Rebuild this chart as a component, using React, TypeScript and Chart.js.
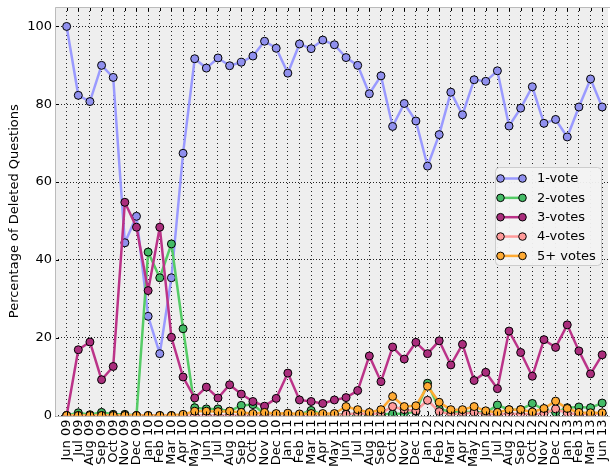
import React, { useEffect, useRef } from "react";
import { Chart, registerables } from "chart.js";
Chart.register(...registerables);

const months = [
  "Jun 09", "Jul 09", "Aug 09", "Sep 09", "Oct 09", "Nov 09", "Dec 09",
  "Jan 10", "Feb 10", "Mar 10", "Apr 10", "May 10", "Jun 10", "Jul 10", "Aug 10", "Sep 10", "Oct 10", "Nov 10", "Dec 10",
  "Jan 11", "Feb 11", "Mar 11", "Apr 11", "May 11", "Jun 11", "Jul 11", "Aug 11", "Sep 11", "Oct 11", "Nov 11", "Dec 11",
  "Jan 12", "Feb 12", "Mar 12", "Apr 12", "May 12", "Jun 12", "Jul 12", "Aug 12", "Sep 12", "Oct 12", "Nov 12", "Dec 12",
  "Jan 13", "Feb 13", "Mar 13", "Jun 13",
];

const oneVote = [100, 82.3, 80.7, 90.0, 86.9, 44.4, 51.2, 25.5, 15.9, 35.4, 67.4, 91.7, 89.3, 91.9, 89.9, 90.8, 92.4, 96.2, 94.4, 88.0, 95.5, 94.3, 96.5, 95.3, 92.0, 90.0, 82.7, 87.3, 74.3, 80.2, 75.7, 64.1, 72.2, 83.1, 77.3, 86.3, 85.9, 88.6, 74.4, 79.0, 84.5, 75.1, 76.1, 71.6, 79.3, 86.5, 79.3];
const twoVotes = [0, 0.7, 0.2, 0.8, 0.3, 0.3, 0, 42.0, 35.4, 44.1, 22.3, 2.0, 1.7, 1.7, 1.1, 2.6, 2.8, 0.4, 0.3, 0.3, 0.2, 1.3, 0.2, 0.2, 0.4, 0.3, 0.3, 0.3, 0.4, 0.5, 1.0, 8.3, 1.7, 0.9, 0.9, 0.9, 0.7, 2.7, 1.5, 1.5, 3.1, 1.5, 0.8, 2.0, 2.2, 2.0, 3.2];
const threeVotes = [0, 16.9, 18.9, 9.2, 12.6, 54.8, 48.4, 32.1, 48.4, 20.1, 9.9, 4.5, 7.3, 4.5, 7.9, 5.5, 3.6, 2.4, 4.4, 10.9, 4.0, 3.6, 3.1, 4.0, 4.6, 6.4, 15.3, 8.7, 17.6, 14.5, 18.8, 15.9, 19.2, 13.0, 18.3, 9.0, 11.1, 6.9, 21.7, 16.2, 10.1, 19.5, 17.5, 23.3, 16.6, 10.7, 15.6];
const fourVotes = [0, 0, 0, 0, 0, 0, 0, 0, 0, 0, 0, 0, 0, 0, 0, 0, 0, 0, 0, 0, 0, 0, 0, 0, 0.3, 0.5, 0.3, 0.6, 2.3, 1.5, 1.2, 3.9, 1.0, 0.3, 0.5, 0.8, 0.3, 0.2, 0.5, 0.3, 0.3, 0.5, 1.7, 0.6, 0.3, 0.3, 0.5];
const fiveVotes = [0, 0, 0, 0, 0, 0, 0, 0, 0, 0, 0.3, 1.1, 1.1, 1.0, 1.1, 0.8, 0.5, 0.8, 0.5, 0.6, 0.4, 0.5, 0.5, 0.5, 2.3, 1.5, 0.8, 1.5, 4.9, 2.3, 2.5, 7.5, 3.4, 1.5, 1.5, 2.3, 1.2, 0.8, 1.5, 1.5, 0.9, 1.8, 3.7, 1.8, 0.8, 0.7, 0.7];

const yTicks = [0, 20, 40, 60, 80, 100];
const seriesLabels = ["1-vote", "2-votes", "3-votes", "4-votes", "5+ votes"];
const seriesValues = [oneVote, twoVotes, threeVotes, fourVotes, fiveVotes];
const lineColors = ["#9a9aff", "#55cc66", "#bb3388", "#ff9a9a", "#ffaa33"];
const pointColors = ["#9090ee", "#44bb66", "#aa2d7c", "#ff9a9a", "#ffaa33"];

const FONT = "'DejaVu Sans', sans-serif";

export default function App() {
  const ref = useRef<HTMLCanvasElement>(null);

  useEffect(() => {
    document.body.style.margin = "0";
    const canvas = ref.current!;

    const bgPlugin = {
      id: "bg",
      beforeDraw(chart: any) {
        const { ctx, chartArea: a } = chart;
        ctx.save();
        ctx.fillStyle = "#eeeeee";
        ctx.fillRect(a.left, a.top, a.right - a.left, a.bottom - a.top);
        ctx.restore();
      },
    };

    const framePlugin = {
      id: "frame",
      afterDatasetsDraw(chart: any) {
        const { ctx, chartArea: a, scales } = chart;
        ctx.save();
        ctx.strokeStyle = "#000";
        ctx.lineWidth = 1;
        ctx.beginPath();
        months.forEach((_, i) => {
          const x = Math.round(scales.x.getPixelForValue(i)) + 0.5;
          ctx.moveTo(x, a.top);
          ctx.lineTo(x, a.top + 4);
          ctx.moveTo(x, a.bottom);
          ctx.lineTo(x, a.bottom - 4);
        });
        yTicks.forEach((v) => {
          const y = Math.round(scales.y.getPixelForValue(v)) + 0.5;
          ctx.moveTo(a.left, y);
          ctx.lineTo(a.left + 4, y);
        });
        ctx.stroke();
        ctx.strokeStyle = "#bbbbbb";
        ctx.beginPath();
        ctx.moveTo(a.right + 2, Math.round(a.top) + 0.5);
        ctx.lineTo(Math.round(a.left) + 0.5, Math.round(a.top) + 0.5);
        ctx.lineTo(Math.round(a.left) + 0.5, Math.round(a.bottom) + 0.5);
        ctx.lineTo(a.right + 2, Math.round(a.bottom) + 0.5);
        ctx.stroke();
        ctx.restore();
      },
    };

    const legendPlugin = {
      id: "customLegend",
      afterDraw(chart: any) {
        const { ctx } = chart;
        ctx.save();
        const x0 = 495.5, y0 = 167.5, w = 106, h = 98, r = 4;
        ctx.beginPath();
        ctx.moveTo(x0 + r, y0);
        ctx.arcTo(x0 + w, y0, x0 + w, y0 + h, r);
        ctx.arcTo(x0 + w, y0 + h, x0, y0 + h, r);
        ctx.arcTo(x0, y0 + h, x0, y0, r);
        ctx.arcTo(x0, y0, x0 + w, y0, r);
        ctx.closePath();
        ctx.fillStyle = "rgba(242,242,242,0.95)";
        ctx.fill();
        ctx.strokeStyle = "#cccccc";
        ctx.lineWidth = 1;
        ctx.stroke();
        seriesLabels.forEach((label, i) => {
          const y = 178.5 + i * 19.35;
          ctx.strokeStyle = lineColors[i];
          ctx.lineWidth = 2.5;
          ctx.beginPath();
          ctx.moveTo(500.5, y);
          ctx.lineTo(522.5, y);
          ctx.stroke();
          [500.5, 522.5].forEach((px) => {
            ctx.beginPath();
            ctx.arc(px, y, 3.8, 0, Math.PI * 2);
            ctx.fillStyle = pointColors[i];
            ctx.fill();
            ctx.lineWidth = 1;
            ctx.strokeStyle = "#000";
            ctx.stroke();
          });
          ctx.fillStyle = "#000";
          ctx.font = `13px ${FONT}`;
          ctx.textBaseline = "middle";
          ctx.textAlign = "left";
          ctx.fillText(label, 537, y + 0.5);
        });
        ctx.restore();
      },
    };

    const datasets = seriesValues.map((vals, i) => ({
      label: seriesLabels[i],
      data: vals.map((v, j) => ({ x: j, y: v })),
      borderColor: lineColors[i],
      backgroundColor: pointColors[i],
      borderWidth: 2.5,
      pointRadius: 4,
      pointBorderWidth: 1,
      pointBorderColor: "#000",
      pointBackgroundColor: pointColors[i],
      tension: 0,
      clip: 0,
      order: seriesLabels.length - 1 - i,
    }));

    const chart = new Chart(canvas, {
      type: "line",
      data: { datasets },
      options: {
        responsive: false,
        animation: false,
        layout: { padding: { top: 7, left: 0, right: 0, bottom: 0 } },
        plugins: { legend: { display: false }, tooltip: { enabled: false } },
        scales: {
          x: {
            type: "linear",
            min: -1,
            max: 46.5,
            afterBuildTicks: (s: any) => {
              s.ticks = months.map((_, i) => ({ value: i }));
            },
            afterFit: (s: any) => {
              s.height = 51.5;
              s.paddingLeft = 0;
              s.paddingRight = 0;
            },
            ticks: {
              autoSkip: false,
              maxRotation: 90,
              minRotation: 90,
              padding: 4,
              color: "#000",
              font: { family: FONT, size: 13 },
              callback: (v: any) => months[v] ?? "",
            },
            grid: { color: "#222", lineWidth: 1, drawTicks: false },
            border: { display: false, dash: [1, 3] },
          },
          y: {
            min: 0,
            max: 105,
            afterBuildTicks: (s: any) => {
              s.ticks = yTicks.map((v) => ({ value: v }));
            },
            afterFit: (s: any) => {
              s.width = 55;
              s.paddingTop = 0;
              s.paddingBottom = 0;
            },
            ticks: {
              padding: 3,
              color: "#000",
              font: { family: FONT, size: 13 },
            },
            grid: { color: "#222", lineWidth: 1, drawTicks: false },
            border: { display: false, dash: [1, 2] },
            title: {
              display: true,
              text: "Percentage of Deleted Questions",
              color: "#000",
              font: { family: FONT, size: 13 },
              padding: { top: 7, bottom: 0 },
            },
          },
        },
      },
      plugins: [bgPlugin, framePlugin, legendPlugin],
    });
    return () => chart.destroy();
  }, []);

  return (
    <div style={{ width: 613, height: 467, overflow: "hidden" }}>
      <canvas ref={ref} width={613} height={467} style={{ display: "block" }} />
    </div>
  );
}
